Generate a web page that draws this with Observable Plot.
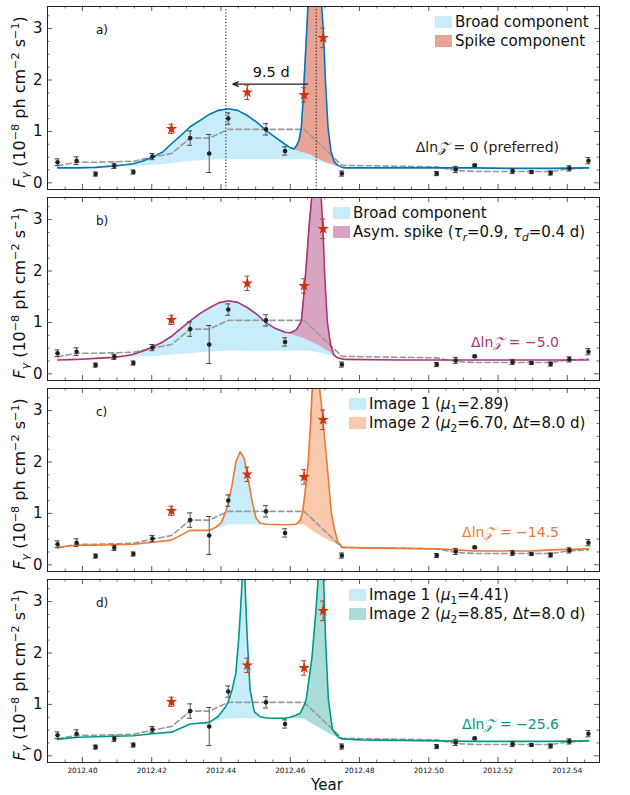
<!DOCTYPE html>
<html><head><meta charset="utf-8">
<script src="https://cdn.jsdelivr.net/npm/d3@7"></script>
<script src="https://cdn.jsdelivr.net/npm/@observablehq/plot@0.6"></script>
<style>
body{margin:0;background:#fff;font-family:"DejaVu Sans",sans-serif;}
#wrap{position:relative;width:630px;height:795px;overflow:hidden;}
.panel{position:absolute;left:0;width:630px;}
.abs{position:absolute;white-space:nowrap;color:#111;line-height:18px;}
.ylab{position:absolute;white-space:nowrap;font-size:16px;color:#111;transform:translate(-50%,-50%) rotate(-90deg);left:20px;line-height:18px;}
sup,sub{font-size:0.7em;line-height:0;}
.sw{position:absolute;width:17px;height:12px;}
</style></head><body><div id="wrap"></div>
<script>
// ---- observed data (Fermi-LAT points) ----
const times = [2012.3928, 2012.3983, 2012.4038, 2012.4092, 2012.4147, 2012.4202, 2012.4257, 2012.4311, 2012.4366, 2012.4421, 2012.4476, 2012.4530, 2012.4585, 2012.4640, 2012.4695, 2012.4749, 2012.5023, 2012.5078, 2012.5133, 2012.5242, 2012.5297, 2012.5352, 2012.5406, 2012.5461];
const flux  = [0.40, 0.43, 0.17, 0.33, 0.21, 0.51, 1.05, 0.87, 0.57, 1.25, 1.76, 1.04, 0.62, 1.71, 2.82, 0.18, 0.18, 0.26, 0.34, 0.23, 0.21, 0.19, 0.28, 0.43];
const err   = [0.065, 0.075, 0.04, 0.05, 0.04, 0.06, 0.09, 0.14, 0.37, 0.11, 0.14, 0.11, 0.08, 0.14, 0.19, 0.05, 0.04, 0.06, 0.02, 0.05, 0.025, 0.04, 0.05, 0.06];
const flare = [0, 0, 0, 0, 0, 0, 1, 0, 0, 0, 1, 0, 0, 1, 1, 0, 0, 0, 0, 0, 0, 0, 0, 0];
const dashV = [0.33, 0.40, 0.40, 0.41, 0.42, 0.50, 0.57, 0.87, 0.87, 1.04, 1.04, 1.04, 1.04, 1.04, 0.69, 0.34, 0.31, 0.24, 0.22, 0.22, 0.22, 0.22, 0.27, 0.29];

// ---- panel a: broad + spike ----
const tA = [2012.3928, 2012.3983, 2012.4038, 2012.4092, 2012.4125, 2012.4147, 2012.4177, 2012.4202, 2012.4232, 2012.4257, 2012.4284, 2012.4311, 2012.4341, 2012.4366, 2012.4393, 2012.4421, 2012.4448, 2012.4476, 2012.4503, 2012.4530, 2012.4558, 2012.4585, 2012.4601, 2012.4611, 2012.4618, 2012.4625, 2012.4632, 2012.4637, 2012.4642, 2012.4647, 2012.4651, 2012.4656, 2012.4662, 2012.4673, 2012.4683, 2012.4690, 2012.4696, 2012.4702, 2012.4709, 2012.4717, 2012.4726, 2012.4734, 2012.4741, 2012.4749, 2012.4760, 2012.4919, 2012.5023, 2012.5133, 2012.5242, 2012.5352, 2012.5461];
const totalA = [0.29, 0.29, 0.30, 0.33, 0.35, 0.37, 0.43, 0.50, 0.60, 0.76, 0.92, 1.09, 1.22, 1.33, 1.41, 1.44, 1.41, 1.31, 1.18, 1.02, 0.88, 0.75, 0.68, 0.66, 0.72, 0.82, 1.08, 1.60, 2.25, 2.90, 3.42, 3.90, 4.40, 5.00, 4.30, 3.50, 2.90, 1.93, 1.08, 0.63, 0.43, 0.36, 0.33, 0.30, 0.29, 0.29, 0.29, 0.29, 0.28, 0.28, 0.29];
const broadA = [0.29, 0.29, 0.30, 0.33, 0.35, 0.37, 0.43, 0.50, 0.60, 0.76, 0.92, 1.09, 1.22, 1.33, 1.41, 1.44, 1.41, 1.31, 1.18, 1.02, 0.88, 0.75, 0.68, 0.65, 0.63, 0.61, 0.59, 0.585, 0.575, 0.565, 0.555, 0.545, 0.53, 0.49, 0.46, 0.44, 0.42, 0.40, 0.38, 0.37, 0.34, 0.32, 0.31, 0.30, 0.29, 0.29, 0.29, 0.29, 0.28, 0.28, 0.29];
const baseA = [0.29, 0.29, 0.30, 0.31, 0.32, 0.32, 0.33, 0.34, 0.35, 0.37, 0.40, 0.42, 0.43, 0.44, 0.45, 0.45, 0.45, 0.45, 0.45, 0.45, 0.45, 0.45, 0.45, 0.45, 0.45, 0.45, 0.45, 0.45, 0.45, 0.45, 0.45, 0.45, 0.44, 0.43, 0.41, 0.40, 0.39, 0.37, 0.36, 0.35, 0.33, 0.31, 0.30, 0.30, 0.29, 0.29, 0.29, 0.29, 0.28, 0.28, 0.29];

// ---- panel b: broad + asymmetric spike ----
const tB = [2012.3928, 2012.3983, 2012.4038, 2012.4092, 2012.4125, 2012.4147, 2012.4177, 2012.4202, 2012.4232, 2012.4257, 2012.4284, 2012.4311, 2012.4341, 2012.4366, 2012.4393, 2012.4421, 2012.4448, 2012.4476, 2012.4503, 2012.4530, 2012.4558, 2012.4585, 2012.4601, 2012.4618, 2012.4632, 2012.4640, 2012.4647, 2012.4654, 2012.4661, 2012.4670, 2012.4682, 2012.4688, 2012.4694, 2012.4700, 2012.4707, 2012.4717, 2012.4726, 2012.4734, 2012.4749, 2012.4760, 2012.4919, 2012.5023, 2012.5133, 2012.5242, 2012.5352, 2012.5461];
const totalB = [0.27, 0.28, 0.30, 0.32, 0.35, 0.38, 0.45, 0.52, 0.62, 0.73, 0.88, 1.03, 1.18, 1.28, 1.38, 1.42, 1.39, 1.29, 1.16, 0.99, 0.88, 0.81, 0.80, 0.86, 1.02, 1.60, 2.18, 2.84, 3.36, 4.00, 4.60, 3.60, 2.84, 1.86, 1.01, 0.55, 0.37, 0.32, 0.29, 0.28, 0.27, 0.27, 0.27, 0.27, 0.27, 0.27];
const broadB = [0.27, 0.28, 0.30, 0.32, 0.35, 0.38, 0.45, 0.52, 0.62, 0.73, 0.88, 1.03, 1.18, 1.28, 1.38, 1.42, 1.39, 1.29, 1.16, 0.99, 0.88, 0.80, 0.77, 0.73, 0.70, 0.685, 0.66, 0.64, 0.62, 0.59, 0.55, 0.53, 0.50, 0.48, 0.45, 0.41, 0.345, 0.32, 0.29, 0.28, 0.27, 0.27, 0.27, 0.27, 0.27, 0.27];
const baseB = [0.27, 0.28, 0.30, 0.31, 0.32, 0.32, 0.33, 0.33, 0.35, 0.36, 0.38, 0.39, 0.41, 0.42, 0.43, 0.44, 0.44, 0.44, 0.44, 0.44, 0.44, 0.44, 0.44, 0.44, 0.44, 0.44, 0.44, 0.44, 0.44, 0.42, 0.41, 0.40, 0.39, 0.38, 0.36, 0.35, 0.33, 0.31, 0.29, 0.28, 0.27, 0.27, 0.27, 0.27, 0.27, 0.27];

// ---- panel c: lensed images (mu1=2.89, mu2=6.70) ----
const tC = [2012.3928, 2012.3983, 2012.4038, 2012.4092, 2012.4147, 2012.4202, 2012.4257, 2012.4311, 2012.4366, 2012.4385, 2012.4401, 2012.4414, 2012.4421, 2012.4432, 2012.4443, 2012.4455, 2012.4467, 2012.4478, 2012.4490, 2012.4501, 2012.4513, 2012.4530, 2012.4585, 2012.4617, 2012.4629, 2012.4636, 2012.4640, 2012.4644, 2012.4652, 2012.4658, 2012.4663, 2012.4669, 2012.4674, 2012.4680, 2012.4686, 2012.4692, 2012.4695, 2012.4701, 2012.4710, 2012.4718, 2012.4727, 2012.4737, 2012.4745, 2012.4749, 2012.4803, 2012.4919, 2012.5023, 2012.5078, 2012.5133, 2012.5242, 2012.5297, 2012.5352, 2012.5406, 2012.5461];
const totalC = [0.34, 0.38, 0.38, 0.39, 0.40, 0.44, 0.48, 0.67, 0.67, 0.73, 0.82, 1.04, 1.20, 1.55, 2.00, 2.20, 2.07, 1.68, 1.23, 0.91, 0.81, 0.79, 0.78, 0.79, 0.87, 1.04, 1.25, 1.49, 2.00, 2.66, 3.35, 3.75, 3.95, 3.80, 3.35, 2.98, 2.75, 2.33, 1.68, 1.04, 0.71, 0.45, 0.39, 0.34, 0.33, 0.32, 0.31, 0.29, 0.27, 0.27, 0.27, 0.29, 0.30, 0.31];
const img1C = [0.34, 0.38, 0.38, 0.39, 0.40, 0.44, 0.48, 0.67, 0.67, 0.73, 0.82, 1.04, 1.20, 1.55, 2.00, 2.20, 2.07, 1.68, 1.23, 0.91, 0.81, 0.79, 0.78, 0.78, 0.78, 0.78, 0.78, 0.76, 0.72, 0.69, 0.67, 0.64, 0.62, 0.60, 0.57, 0.54, 0.53, 0.51, 0.48, 0.45, 0.42, 0.39, 0.36, 0.34, 0.33, 0.32, 0.31, 0.29, 0.27, 0.27, 0.27, 0.29, 0.30, 0.31];
const baseC = [0.34, 0.38, 0.38, 0.39, 0.40, 0.44, 0.48, 0.67, 0.67, 0.70, 0.725, 0.75, 0.78, 0.78, 0.78, 0.78, 0.78, 0.78, 0.78, 0.78, 0.78, 0.78, 0.78, 0.78, 0.78, 0.78, 0.78, 0.76, 0.72, 0.69, 0.67, 0.64, 0.62, 0.60, 0.57, 0.54, 0.53, 0.51, 0.48, 0.45, 0.42, 0.39, 0.36, 0.34, 0.33, 0.32, 0.31, 0.29, 0.27, 0.27, 0.27, 0.29, 0.30, 0.31];

// ---- panel d: lensed images (mu1=4.41, mu2=8.85) ----
const tD = [2012.3928, 2012.3983, 2012.4038, 2012.4092, 2012.4147, 2012.4202, 2012.4257, 2012.4311, 2012.4366, 2012.4391, 2012.4414, 2012.4421, 2012.4432, 2012.4443, 2012.4451, 2012.4457, 2012.4461, 2012.4463, 2012.4465, 2012.4467, 2012.4469, 2012.4472, 2012.4476, 2012.4484, 2012.4496, 2012.4513, 2012.4536, 2012.4585, 2012.4600, 2012.4616, 2012.4629, 2012.4640, 2012.4646, 2012.4663, 2012.4675, 2012.4681, 2012.4685, 2012.4689, 2012.4692, 2012.4696, 2012.4702, 2012.4710, 2012.4722, 2012.4739, 2012.4749, 2012.4803, 2012.4919, 2012.5023, 2012.5133, 2012.5242, 2012.5352, 2012.5461];
const totalD = [0.32, 0.36, 0.37, 0.38, 0.39, 0.43, 0.46, 0.62, 0.65, 0.76, 0.96, 1.05, 1.28, 1.61, 2.26, 2.90, 3.40, 4.80, 7.00, 4.80, 3.40, 2.90, 2.26, 1.28, 0.86, 0.76, 0.73, 0.73, 0.75, 0.79, 0.83, 0.98, 1.09, 1.93, 2.90, 3.50, 5.50, 9.00, 5.50, 3.50, 2.26, 1.09, 0.51, 0.36, 0.33, 0.31, 0.30, 0.29, 0.28, 0.28, 0.28, 0.29];
const img1D = [0.32, 0.36, 0.37, 0.38, 0.39, 0.43, 0.46, 0.62, 0.65, 0.76, 0.96, 1.05, 1.28, 1.61, 2.26, 2.90, 3.40, 4.80, 7.00, 4.80, 3.40, 2.90, 2.26, 1.28, 0.86, 0.76, 0.73, 0.73, 0.73, 0.725, 0.72, 0.72, 0.69, 0.62, 0.58, 0.55, 0.54, 0.52, 0.51, 0.495, 0.47, 0.44, 0.40, 0.35, 0.33, 0.31, 0.30, 0.29, 0.28, 0.28, 0.28, 0.29];
const baseD = [0.32, 0.36, 0.37, 0.38, 0.39, 0.43, 0.46, 0.62, 0.65, 0.68, 0.71, 0.72, 0.72, 0.72, 0.72, 0.72, 0.72, 0.72, 0.72, 0.72, 0.72, 0.72, 0.72, 0.72, 0.72, 0.72, 0.72, 0.72, 0.72, 0.72, 0.72, 0.72, 0.69, 0.62, 0.58, 0.55, 0.54, 0.52, 0.51, 0.495, 0.47, 0.44, 0.40, 0.35, 0.33, 0.31, 0.30, 0.29, 0.28, 0.28, 0.28, 0.29];

// ---- axes ----
const xDomain = [2012.3899, 2012.5493];
const yDomain = [-0.13, 3.43];
const xMajor = [2012.40, 2012.42, 2012.44, 2012.46, 2012.48, 2012.50, 2012.52, 2012.54];
const xMinor = [2012.395, 2012.405, 2012.41, 2012.415, 2012.425, 2012.43, 2012.435, 2012.445, 2012.45, 2012.455, 2012.465, 2012.47, 2012.475, 2012.485, 2012.49, 2012.495, 2012.505, 2012.51, 2012.515, 2012.525, 2012.53, 2012.535, 2012.545];
const yMajor = [0, 1, 2, 3];
const yMinor = [0.25, 0.5, 0.75, 1.25, 1.5, 1.75, 2.25, 2.5, 2.75, 3.25];

// panel a annotations
const delayLines = [2012.4414, 2012.4675];
const arrowSpan = [{x1: 2012.4650, x2: 2012.4434, y: 1.92}];
const delayText = [{x: 2012.4545, y: 2.14, label: "9.5 d"}];

const panels = [
  {t: tA, total: totalA, mid: broadA, base: baseA, line: "#0077BB", fill2: "#CC3311", op2: 0.45,
   letter: "a)", legX: 435, legend: ["Broad component", "Spike component"],
   dz: "Δln<i class='z'>𝒵</i> = 0 (preferred)", dzColor: "#222", dzY: 145},
  {t: tB, total: totalB, mid: broadB, base: baseB, line: "#AA3377", fill2: "#AA3377", op2: 0.45,
   letter: "b)", legX: 333, legend: ["Broad component", "Asym. spike (<i>τ<sub>r</sub></i>=0.9, <i>τ<sub>d</sub></i>=0.4 d)"],
   dz: "Δln<i class='z'>𝒵</i> = −5.0", dzColor: "#AA3377", dzY: 149},
  {t: tC, total: totalC, mid: img1C, base: baseC, line: "#EE7733", fill2: "#EE7733", op2: 0.40,
   letter: "c)", legX: 349, legend: ["Image 1 (<i>μ</i><sub>1</sub>=2.89)", "Image 2 (<i>μ</i><sub>2</sub>=6.70, Δ<i>t</i>=8.0 d)"],
   dz: "Δln<i class='z'>𝒵</i> = −14.5", dzColor: "#EE7733", dzY: 148},
  {t: tD, total: totalD, mid: img1D, base: baseD, line: "#009988", fill2: "#009988", op2: 0.33,
   letter: "d)", legX: 349, legend: ["Image 1 (<i>μ</i><sub>1</sub>=4.41)", "Image 2 (<i>μ</i><sub>2</sub>=8.85, Δ<i>t</i>=8.0 d)"],
   dz: "Δln<i class='z'>𝒵</i> = −25.6", dzColor: "#009988", dzY: 149}
];

const W = 630, ML = 47, MR = 31, MT = 4, FH = 183, FW = W - ML - MR;
const tops = [2, 193, 384, 575];
const pts = times.map((t, k) => ({t, f: flux[k], lo: flux[k] - err[k], hi: flux[k] + err[k], star: flare[k] === 1}));
const dash = times.map((t, k) => ({t, v: dashV[k]}));
const wrap = document.getElementById("wrap");

function rgba(hex, a) {
  const c = d3.color(hex); c.opacity = a; return c.formatRgb();
}

panels.forEach((p, i) => {
  const last = i === 3;
  const MB = last ? 33 : 4;
  const rows = p.t.map((t, k) => ({t, total: p.total[k], mid: p.mid[k], base: p.base[k]}));
  const black = pts.filter(d => !d.star), red = pts.filter(d => d.star);
  const marks = [
    Plot.areaY(rows, {x: "t", y1: "base", y2: "mid", fill: "#33BBEE", fillOpacity: 0.27, clip: true}),
    Plot.areaY(rows, {x: "t", y1: "mid", y2: "total", fill: p.fill2, fillOpacity: p.op2, clip: true}),
    Plot.lineY(dash, {x: "t", y: "v", stroke: "#999", strokeWidth: 1.6, strokeDasharray: "5.5,3"}),
    Plot.lineY(rows, {x: "t", y: "total", stroke: p.line, strokeWidth: 1.6, clip: true}),
  ];
  if (i === 0) {
    marks.push(
      Plot.ruleX(delayLines, {stroke: "#111", strokeWidth: 1, strokeDasharray: "1.2,2"}),
      Plot.arrow(arrowSpan, {x1: "x1", x2: "x2", y1: "y", y2: "y", stroke: "#222", strokeWidth: 1.3, headLength: 7, headAngle: 45}),
      Plot.text(delayText, {x: "x", y: "y", text: "label", fontSize: 14.5, fill: "#111"})
    );
  }
  marks.push(
    Plot.ruleX(black, {x: "t", y1: "lo", y2: "hi", stroke: "#666", strokeWidth: 1.1}),
    Plot.ruleY(black, {y: "lo", x1: "t", x2: "t", insetLeft: -2.5, insetRight: -2.5, stroke: "#444", strokeWidth: 1}),
    Plot.ruleY(black, {y: "hi", x1: "t", x2: "t", insetLeft: -2.5, insetRight: -2.5, stroke: "#444", strokeWidth: 1}),
    Plot.ruleX(red, {x: "t", y1: "lo", y2: "hi", stroke: "#B8402A", strokeWidth: 1.1}),
    Plot.ruleY(red, {y: "lo", x1: "t", x2: "t", insetLeft: -2.5, insetRight: -2.5, stroke: "#B8402A", strokeWidth: 1}),
    Plot.ruleY(red, {y: "hi", x1: "t", x2: "t", insetLeft: -2.5, insetRight: -2.5, stroke: "#B8402A", strokeWidth: 1}),
    Plot.dot(black, {x: "t", y: "f", r: 2.3, fill: "#222", stroke: "none"}),
    Plot.dot(red, {x: "t", y: "f", r: 3.6, symbol: "star", fill: "#CC3311", stroke: "none"}),
    // inward ticks on all four sides
    Plot.ruleX(xMajor, {insetTop: FH - 5, stroke: "#333", strokeWidth: 0.8}),
    Plot.ruleX(xMajor, {insetBottom: FH - 5, stroke: "#333", strokeWidth: 0.8}),
    Plot.ruleX(xMinor, {insetTop: FH - 2.5, stroke: "#333", strokeWidth: 0.7}),
    Plot.ruleX(xMinor, {insetBottom: FH - 2.5, stroke: "#333", strokeWidth: 0.7}),
    Plot.ruleY(yMajor, {insetRight: FW - 5, stroke: "#333", strokeWidth: 0.8}),
    Plot.ruleY(yMajor, {insetLeft: FW - 5, stroke: "#333", strokeWidth: 0.8}),
    Plot.ruleY(yMinor, {insetRight: FW - 2.5, stroke: "#333", strokeWidth: 0.7}),
    Plot.ruleY(yMinor, {insetLeft: FW - 2.5, stroke: "#333", strokeWidth: 0.7}),
    Plot.frame({stroke: "#222", strokeWidth: 1}),
    Plot.axisY({ticks: yMajor, tickSize: 0, tickPadding: 5, fontSize: 15, tickFormat: d => String(d), label: null, fill: "#111"})
  );
  if (last) {
    marks.push(Plot.axisX({ticks: xMajor, tickSize: 0, tickPadding: 5, fontSize: 7.3, tickFormat: d => d.toFixed(2), label: null, fill: "#111"}));
  }
  const svg = Plot.plot({
    width: W, height: MT + FH + MB,
    marginLeft: ML, marginRight: MR, marginTop: MT, marginBottom: MB,
    style: {fontFamily: "DejaVu Sans, sans-serif", background: "transparent", overflow: "visible"},
    x: {domain: xDomain, axis: null, label: null},
    y: {domain: yDomain, axis: null, label: null},
    marks
  });
  const div = document.createElement("div");
  div.className = "panel";
  div.style.top = tops[i] + "px";
  div.style.height = (MT + FH + MB) + "px";
  div.appendChild(svg);
  // y label
  const yl = document.createElement("div");
  yl.className = "ylab";
  yl.style.top = (MT + FH / 2 + 4) + "px";
  yl.innerHTML = "<i>F</i><sub><i>γ</i></sub> (10<sup>−8</sup> ph cm<sup>−2</sup> s<sup>−1</sup>)";
  div.appendChild(yl);
  // panel letter
  const lt = document.createElement("div");
  lt.className = "abs";
  lt.style.cssText += "left:96px;top:" + (MT + 15) + "px;font-size:12px;";
  lt.textContent = p.letter;
  div.appendChild(lt);
  // legend
  p.legend.forEach((txt, r) => {
    const cy = MT + 16 + r * 19;
    const sw = document.createElement("div");
    sw.className = "sw";
    sw.style.left = p.legX + "px";
    sw.style.top = (cy - 6) + "px";
    sw.style.background = r === 0 ? rgba("#33BBEE", 0.27) : rgba(p.fill2, p.op2);
    div.appendChild(sw);
    const tx = document.createElement("div");
    tx.className = "abs";
    tx.style.cssText += "left:" + (p.legX + 20) + "px;top:" + (cy - 9) + "px;font-size:15px;";
    tx.innerHTML = txt;
    div.appendChild(tx);
  });
  // evidence label
  const dz = document.createElement("div");
  dz.className = "abs";
  dz.style.cssText += "right:" + (W - 559) + "px;top:" + (p.dzY - 9) + "px;font-size:14px;color:" + p.dzColor + ";";
  dz.innerHTML = p.dz;
  div.appendChild(dz);
  if (last) {
    const yr = document.createElement("div");
    yr.className = "abs";
    yr.style.cssText += "left:327px;top:201px;font-size:15px;transform:translateX(-50%);";
    yr.textContent = "Year";
    div.appendChild(yr);
  }
  wrap.appendChild(div);
});
</script></body></html>
